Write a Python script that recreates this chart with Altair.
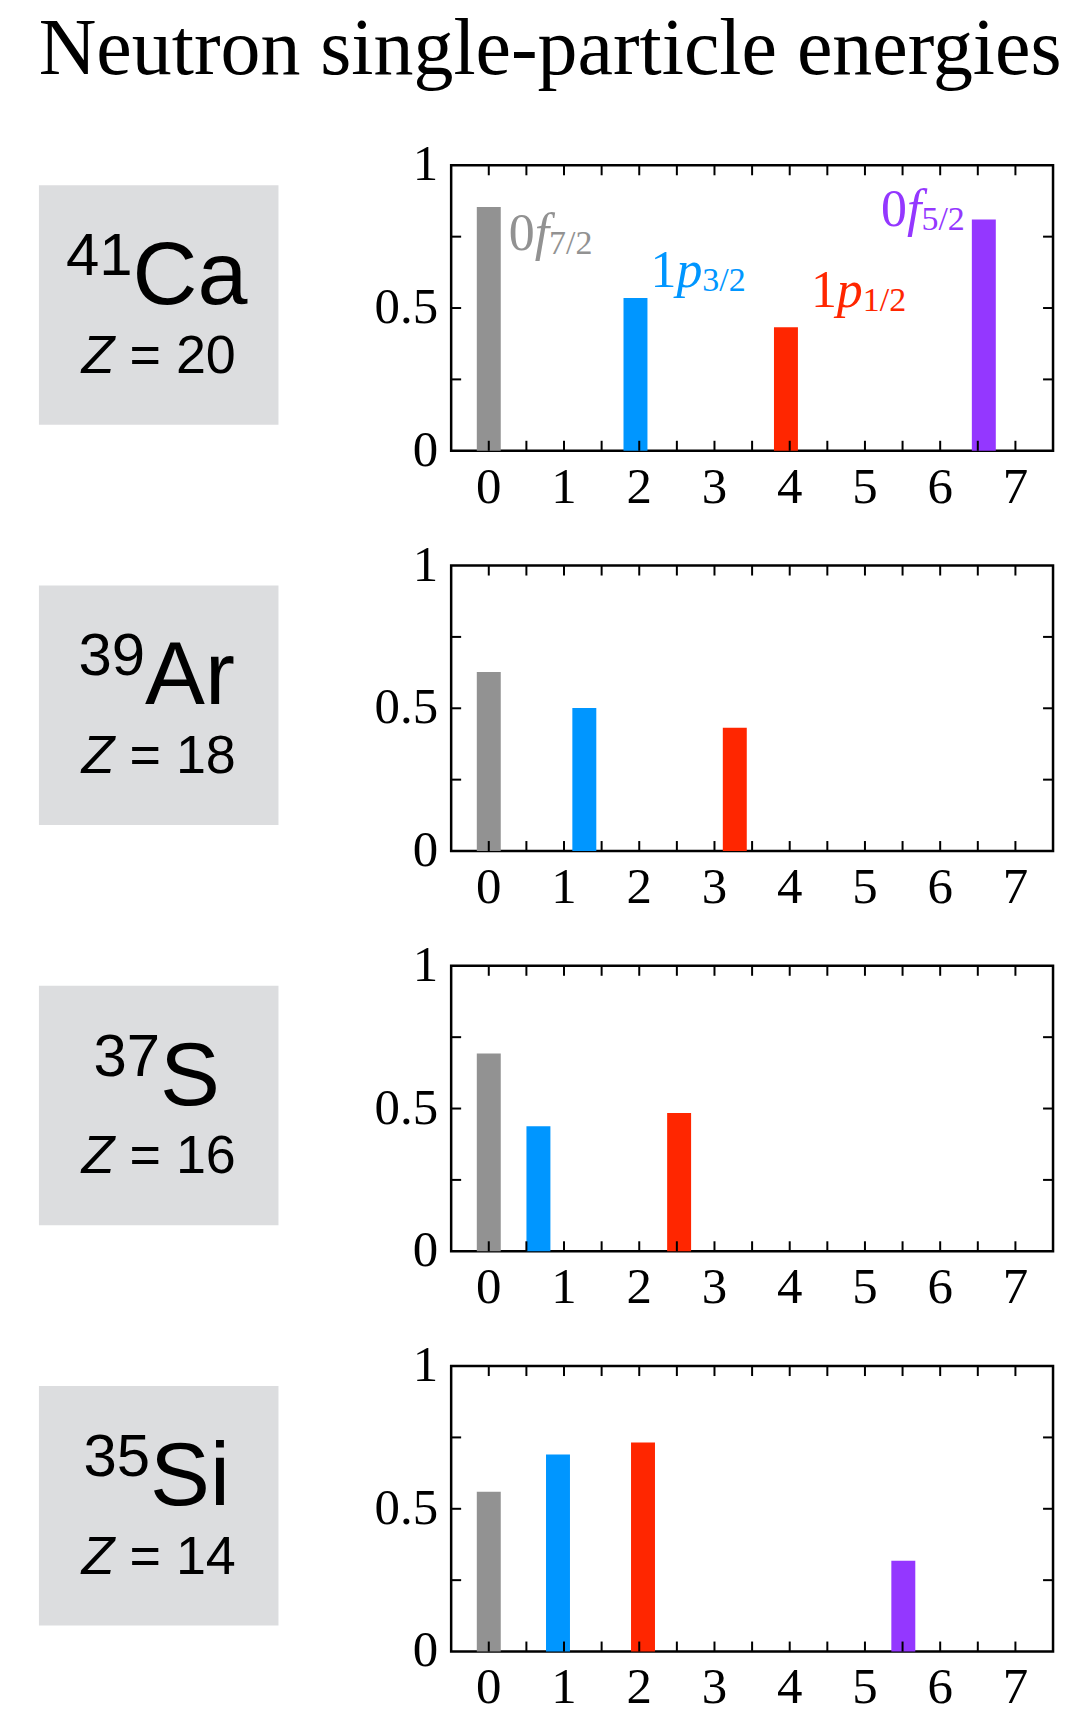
import altair as alt
import pandas as pd

# ---------------------------------------------------------------- data ----
TITLE = "Neutron single-particle energies"

mass_numbers = ["41", "39", "37", "35"]
elements = ["Ca", "Ar", "S", "Si"]
proton_numbers = ["20", "18", "16", "14"]

orbitals = ["0f7/2", "1p3/2", "1p1/2", "0f5/2"]
orbital_colors = ["#929292", "#0096FF", "#FF2600", "#9437FF"]

# orbital energies (MeV, relative to 0f7/2) and spectroscopic strengths
ca41_orbitals = ["0f7/2", "1p3/2", "1p1/2", "0f5/2"]
ca41_energy = [0.0, 1.95, 3.95, 6.58]
ca41_strength = [0.854, 0.535, 0.433, 0.810]

ar39_orbitals = ["0f7/2", "1p3/2", "1p1/2"]
ar39_energy = [0.0, 1.27, 3.27]
ar39_strength = [0.627, 0.501, 0.432]

s37_orbitals = ["0f7/2", "1p3/2", "1p1/2"]
s37_energy = [0.0, 0.66, 2.53]
s37_strength = [0.693, 0.438, 0.484]

si35_orbitals = ["0f7/2", "1p3/2", "1p1/2", "0f5/2"]
si35_energy = [0.0, 0.92, 2.05, 5.51]
si35_strength = [0.560, 0.690, 0.732, 0.318]

x_tick_labels = [0, 1, 2, 3, 4, 5, 6, 7]
y_tick_labels = [0, 0.5, 1]
x_tick_marks = [0, 0.5, 1, 1.5, 2, 2.5, 3, 3.5, 4, 4.5, 5, 5.5, 6, 6.5, 7]
y_tick_marks = [0.25, 0.5, 0.75]

# ------------------------------------------------------------- styling ----
SERIF = "Liberation Serif"
SANS = "Liberation Sans"

PLOT_W, PLOT_H = 603, 286
BOX, BOX_TOP = 240, 20
BOX_FILL = "#DCDDDF"
BAR_W = 24
TICK_LEN, TICK_W = 10, 2
FRAME_W = 2.5

TICK_FONT = 51
X_LABEL_DROP = 52        # frame bottom -> baseline of the x tick labels
Y_LABEL_GAP = 13         # frame left -> right edge of the y tick labels

MASS_SIZE, ELEM_SIZE, Z_SIZE = 60, 90, 54
LABEL_SIZE, SUB_SIZE, SUB_DROP = 52, 34, 4

# advance widths (em) used to centre / chain the composed text pieces
SANS_EM = {**{d: 0.556 for d in "0123456789"}, "C": 0.722, "a": 0.556,
           "A": 0.667, "r": 0.333, "S": 0.667, "i": 0.222, "Z": 0.611,
           " ": 0.278, "=": 0.584}
SERIF_EM = {**{d: 0.5 for d in "0123456789"}, "/": 0.278, "f": 0.278, "p": 0.5}

# where each orbital name sits relative to the top centre of its bar (px)
label_offsets = {
    "0f7/2": dict(dx=20, dy=43, align="left"),
    "1p3/2": dict(dx=15, dy=-11, align="left"),
    "1p1/2": dict(dx=25, dy=-20, align="left"),
    "0f5/2": dict(dx=-19, dy=6, align="right"),
}


def width(text, table, size):
    return sum(table[c] for c in text) * size


x_scale = alt.Scale(domain=[-0.5, 7.5], nice=False, zero=False, padding=0)
y_scale = alt.Scale(domain=[0, 1], nice=False, padding=0)
color_enc = alt.Color("orbital:N", legend=None,
                      scale=alt.Scale(domain=orbitals, range=orbital_colors))

x_labels_df = pd.DataFrame({"t": x_tick_labels,
                            "s": [f"{v:g}" for v in x_tick_labels]})
y_labels_df = pd.DataFrame({"t": y_tick_labels,
                            "s": [f"{v:g}" for v in y_tick_labels]})


def bar_panel(orbs, energy, strength, labelled):
    df = pd.DataFrame({"orbital": orbs, "energy": energy, "strength": strength})
    xpos_e = alt.X("energy:Q", scale=x_scale, axis=None)
    ypos_s = alt.Y("strength:Q", scale=y_scale, axis=None)

    bars = alt.Chart(df).mark_bar(size=BAR_W, orient="vertical").encode(
        x=xpos_e, y=ypos_s, color=color_enc)

    xt = alt.Chart(pd.DataFrame({"t": x_tick_marks}))
    yt = alt.Chart(pd.DataFrame({"t": y_tick_marks}))
    rule = dict(color="black", strokeWidth=TICK_W)
    xpos = alt.X("t:Q", scale=x_scale, axis=None)
    ypos = alt.Y("t:Q", scale=y_scale, axis=None)
    ticks = [
        xt.mark_rule(**rule).encode(x=xpos, y=alt.value(0), y2=alt.value(TICK_LEN)),
        xt.mark_rule(**rule).encode(x=xpos, y=alt.value(PLOT_H - TICK_LEN), y2=alt.value(PLOT_H)),
        yt.mark_rule(**rule).encode(y=ypos, x=alt.value(0), x2=alt.value(TICK_LEN)),
        yt.mark_rule(**rule).encode(y=ypos, x=alt.value(PLOT_W - TICK_LEN), x2=alt.value(PLOT_W)),
    ]

    tick_labels = [
        alt.Chart(x_labels_df).mark_text(
            font=SERIF, fontSize=TICK_FONT, color="black",
            align="center", baseline="alphabetic").encode(
            x=xpos, y=alt.value(PLOT_H + X_LABEL_DROP), text="s:N"),
        alt.Chart(y_labels_df).mark_text(
            font=SERIF, fontSize=TICK_FONT, color="black",
            align="right", baseline="middle").encode(
            y=ypos, x=alt.value(-Y_LABEL_GAP), text="s:N"),
    ]

    labels = []
    if labelled:
        for orb in orbs:
            num, letter, sub = orb[0], orb[1], orb[2:]
            pieces = [
                (num, LABEL_SIZE, "normal", 0),
                (letter, LABEL_SIZE, "italic", 0),
                (sub, SUB_SIZE, "normal", SUB_DROP),
            ]
            total = sum(width(t, SERIF_EM, s) for t, s, _, _ in pieces)
            off = label_offsets[orb]
            cursor = off["dx"] if off["align"] == "left" else off["dx"] - total
            for text, size, style, drop in pieces:
                labels.append(
                    alt.Chart(df)
                    .transform_filter(alt.datum.orbital == orb)
                    .mark_text(font=SERIF, fontSize=size, fontStyle=style,
                               align="left", baseline="alphabetic",
                               dx=cursor, dy=off["dy"] + drop)
                    .encode(x=xpos_e, y=ypos_s, color=color_enc,
                            text=alt.value(text))
                )
                cursor += width(text, SERIF_EM, size)

    return alt.layer(bars, *ticks, *tick_labels, *labels).properties(
        width=PLOT_W, height=PLOT_H,
        view=alt.ViewBackground(stroke="black", strokeWidth=FRAME_W),
    )


def nucleus_box(mass, elem, z):
    base = alt.Chart(pd.DataFrame({"nucleus": [mass + elem]}))
    cx = BOX / 2
    w_mass = width(mass, SANS_EM, MASS_SIZE)
    w_elem = width(elem, SANS_EM, ELEM_SIZE)
    start = cx - (w_mass + w_elem) / 2 - 2

    z_rest = "= " + z
    w_z = width("Z ", SANS_EM, Z_SIZE)
    z_total = w_z + width(z_rest, SANS_EM, Z_SIZE)
    z_start = cx - z_total / 2

    def txt(text, x, y, size, style="normal"):
        return base.mark_text(font=SANS, fontSize=size, fontStyle=style,
                              align="left", baseline="alphabetic",
                              color="black").encode(
            x=alt.value(x), y=alt.value(y), text=alt.value(text))

    rect = base.mark_rect(color=BOX_FILL).encode(
        x=alt.value(0), x2=alt.value(BOX),
        y=alt.value(BOX_TOP), y2=alt.value(BOX_TOP + BOX))

    return alt.layer(
        rect,
        txt(mass, start, BOX_TOP + 90, MASS_SIZE),
        txt(elem, start + w_mass, BOX_TOP + 119, ELEM_SIZE),
        txt("Z", z_start, BOX_TOP + 188, Z_SIZE, "italic"),
        txt(z_rest, z_start + w_z, BOX_TOP + 188, Z_SIZE),
    ).properties(width=BOX, height=PLOT_H)


panels = [
    (ca41_orbitals, ca41_energy, ca41_strength, True),
    (ar39_orbitals, ar39_energy, ar39_strength, False),
    (s37_orbitals, s37_energy, s37_strength, False),
    (si35_orbitals, si35_energy, si35_strength, False),
]

cells = []
for m, e, z, p in zip(mass_numbers, elements, proton_numbers, panels):
    cells += [nucleus_box(m, e, z), bar_panel(*p)]

chart = (
    alt.concat(*cells, columns=2, spacing={"row": 115, "column": 173},
               bounds="flush")
    .properties(
        title=alt.TitleParams(TITLE, font=SERIF, fontSize=80, fontWeight="normal",
                              color="black", anchor="middle", offset=47, dx=3),
        padding={"left": 38, "top": 8, "right": 10, "bottom": 0},
    )
    .configure_view(stroke="transparent", strokeWidth=0)
)

chart.save("out.html", embed_options={"renderer": "svg", "actions": False})
